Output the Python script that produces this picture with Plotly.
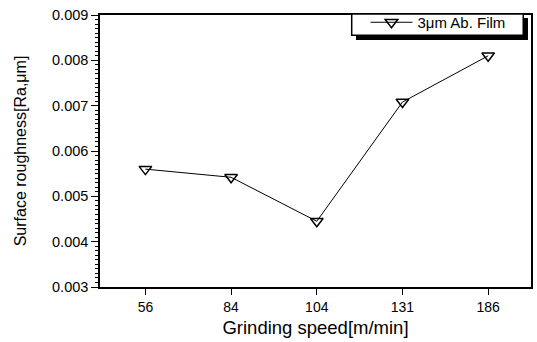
import plotly.graph_objects as go

speeds = ["56", "84", "104", "131", "186"]
roughness = [0.0056, 0.00542, 0.00445, 0.00708, 0.0081]
y_ticks = [0.003, 0.004, 0.005, 0.006, 0.007, 0.008, 0.009]
y_labels = ["0.003", "0.004", "0.005", "0.006", "0.007", "0.008", "0.009"]
series_name = "3\u03bcm Ab. Film"

fig = go.Figure()
fig.add_trace(go.Scatter(
    x=list(range(len(speeds))), y=roughness, mode="lines+markers", name=series_name,
    line=dict(color="black", width=1),
    marker=dict(symbol="triangle-down-open", size=11, color="black", line=dict(width=1.5)),
))

fig.update_layout(
    width=537, height=342,
    margin=dict(l=100, r=4, t=15, b=55),
    paper_bgcolor="white", plot_bgcolor="white",
    font=dict(family="Liberation Sans, Arial, sans-serif", color="black", size=14),
    showlegend=True,
    legend=dict(x=0.616, y=1.033, xanchor="left", yanchor="top",
                bgcolor="rgba(0,0,0,0)", borderwidth=0,
                font=dict(size=15), itemwidth=42),
    shapes=[
        dict(type="rect", xref="paper", yref="paper",
             x0=0.594, x1=0.993, y0=0.908, y1=0.989,
             fillcolor="black", line=dict(width=0), layer="above"),
        dict(type="rect", xref="paper", yref="paper",
             x0=0.584, x1=0.982, y0=0.926, y1=1.004,
             fillcolor="white", line=dict(color="black", width=1.5), layer="above"),
    ],
)
fig.update_xaxes(
    range=[-0.53, 4.5], tickvals=list(range(len(speeds))), ticktext=speeds,
    showline=True, linecolor="black", linewidth=1.5, mirror=True,
    ticks="outside", ticklen=6, tickcolor="black", showgrid=False, zeroline=False,
    tickfont=dict(size=14),
    title=dict(text="Grinding speed[m/min]", font=dict(size=18.5), standoff=8),
)
fig.update_yaxes(
    range=[0.003, 0.009], tickvals=y_ticks, ticktext=y_labels,
    showline=True, linecolor="black", linewidth=1.5, mirror=True,
    ticks="outside", ticklen=7, tickcolor="black", showgrid=False, zeroline=False,
    tickfont=dict(size=14.5),
    minor=dict(dtick=0.0001, ticks="outside", ticklen=3, tickcolor="black", showgrid=False),
    title=dict(text="Surface roughness[Ra,\u03bcm]", font=dict(size=16), standoff=21),
)
fig.write_html("out.html", config={"displayModeBar": False},
               post_script="document.body.style.margin='0';")
